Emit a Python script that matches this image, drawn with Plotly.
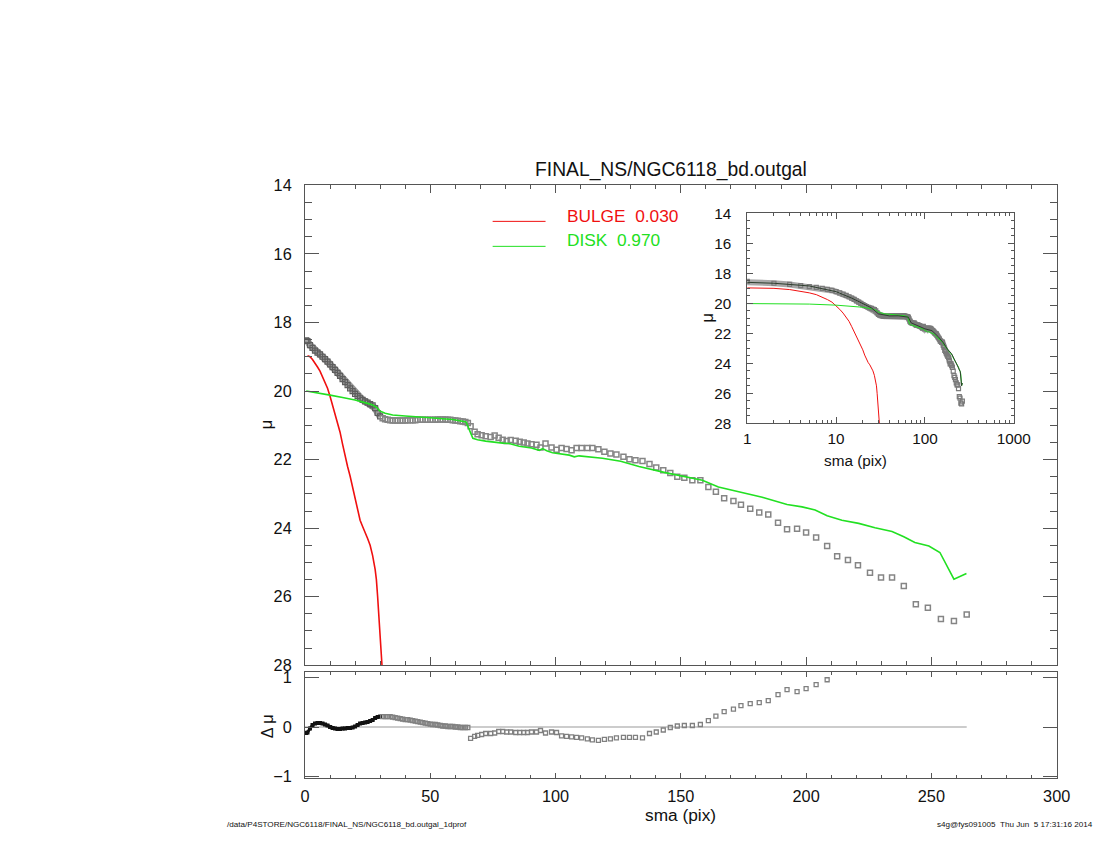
import plotly.graph_objects as go

# ---- profile data ----
data_sma = [0.5, 1, 2, 3, 4, 5, 6, 7, 8, 9, 10, 11, 12, 13, 14, 15, 16, 17, 18, 19, 20,
            21, 22, 23, 24, 25, 26, 27, 28, 29, 30, 31, 32, 33, 34, 35, 36, 37, 38, 39, 40,
            41, 42, 43, 44, 45, 46, 47, 48, 49, 50, 51, 52, 53, 54, 55, 56, 57, 58, 59, 60,
            61, 62, 63, 64, 65,
            66.1, 67.7, 68.9, 70.5, 72.1, 74.1, 75.7, 77.3, 78.9, 80.5, 82.1, 84.1, 85.7, 87.3,
            88.8, 90.4, 92.4, 94.0, 96.0, 98.4, 100.4, 102.4, 104.4, 106.4, 108.4, 110.4, 112.7,
            114.7, 117.1, 119.5, 121.9, 124.3, 127.1, 129.5, 131.9, 134.7, 137.5, 140.2, 143.0,
            145.8, 148.6, 151.4, 154.6, 157.8, 161.0, 164.0, 167.3, 171.0, 174.0, 177.7, 181.3,
            184.9, 188.8, 192.4, 196.4, 200.0, 204.0, 208.4, 212.4, 216.7, 220.7, 225.5, 229.9,
            234.3, 239.0, 243.8, 248.6, 253.8, 259.0, 264.1]
data_mu = [18.52, 18.54, 18.66, 18.74, 18.82, 18.88, 18.93, 19.00, 19.07, 19.14, 19.22, 19.30,
           19.38, 19.47, 19.56, 19.65, 19.74, 19.83, 19.92, 20.00, 20.08, 20.15, 20.21, 20.26,
           20.30, 20.34, 20.38, 20.42, 20.50, 20.64, 20.74, 20.79, 20.82, 20.84, 20.85, 20.86,
           20.86, 20.86, 20.86, 20.86, 20.86, 20.85, 20.85, 20.85, 20.85, 20.84, 20.84, 20.84,
           20.84, 20.84, 20.84, 20.84, 20.84, 20.83, 20.83, 20.83, 20.83, 20.84, 20.84, 20.85,
           20.86, 20.87, 20.88, 20.89, 20.90, 20.93,
           21.03, 21.19, 21.26, 21.29, 21.32, 21.34, 21.30, 21.36, 21.42, 21.46, 21.43, 21.45,
           21.48, 21.50, 21.53, 21.55, 21.57, 21.65, 21.53, 21.65, 21.71, 21.66, 21.69, 21.73,
           21.66, 21.66, 21.66, 21.66, 21.70, 21.77, 21.82, 21.85, 21.92, 21.99, 22.02, 22.04,
           22.13, 22.23, 22.31, 22.39, 22.50, 22.53, 22.60, 22.60, 22.80, 22.94, 23.13, 23.21,
           23.32, 23.43, 23.54, 23.60, 23.84, 24.03, 24.02, 24.13, 24.27, 24.52, 24.82, 24.93,
           25.08, 25.30, 25.44, 25.44, 25.69, 26.22, 26.32, 26.65, 26.71, 26.52]

# residuals (data - model), available out to sma ~208
resid_mu = [-0.12, -0.11, -0.03, 0.04, 0.07, 0.08, 0.08, 0.07, 0.05, 0.03, 0.00, -0.02, -0.03,
            -0.04, -0.04, -0.03, -0.03, -0.02, -0.02, -0.01, 0.01, 0.04, 0.07, 0.08, 0.09, 0.10,
            0.12, 0.14, 0.18, 0.20, 0.21, 0.21, 0.21, 0.21, 0.21, 0.20, 0.19, 0.18, 0.17, 0.16,
            0.15, 0.15, 0.14, 0.13, 0.12, 0.11, 0.10, 0.09, 0.08, 0.07, 0.06, 0.05, 0.05, 0.04,
            0.03, 0.02, 0.02, 0.01, 0.01, 0.01, 0.00, 0.00, -0.01, -0.01, -0.01, -0.01,
            -0.23, -0.19, -0.17, -0.15, -0.13, -0.13, -0.12, -0.09, -0.09, -0.10, -0.10, -0.11,
            -0.11, -0.11, -0.11, -0.10, -0.10, -0.07, -0.12, -0.10, -0.11, -0.18, -0.19, -0.20,
            -0.21, -0.22, -0.24, -0.26, -0.27, -0.25, -0.24, -0.22, -0.21, -0.21, -0.21, -0.22,
            -0.13, -0.10, -0.06, -0.01, 0.02, 0.03, 0.03, 0.05, 0.13, 0.22, 0.31, 0.36, 0.43,
            0.47, 0.49, 0.53, 0.65, 0.75, 0.71, 0.77, 0.85, 0.95]
resid_sma = data_sma[:len(resid_mu)]

bulge_sma = [1.0, 2.0, 3.0, 4.0, 5.0, 6.0, 7.0, 8.0, 9.0, 10.0, 11.0, 12.0, 13.0, 14.0, 15.0,
             16.0, 17.0, 18.0, 19.0, 20.0, 21.0, 22.0, 23.0, 24.0, 25.0, 26.0, 27.0, 28.0,
             28.5, 29.0, 29.5, 30.0, 30.5, 31.0]
bulge_mu = [18.97, 19.00, 19.08, 19.18, 19.30, 19.42, 19.58, 19.75, 19.92, 20.15, 20.40, 20.65,
            20.92, 21.20, 21.55, 21.90, 22.20, 22.48, 22.80, 23.10, 23.45, 23.77, 23.95, 24.10,
            24.30, 24.50, 24.80, 25.20, 25.50, 26.00, 26.50, 27.00, 27.60, 28.30]

disk_sma = [0.5, 5, 10, 15, 20, 25, 27, 28.7, 29.8, 32, 35, 40, 45.7, 50, 55, 59, 64.3, 65.6,
            67, 68.9, 72.1, 78.9, 81.5, 85.5, 90.4, 93.5, 94.8, 96.5, 98.8, 105.5, 107.5, 109.4,
            118.7, 126, 133.3, 143.8, 151.8, 158.6, 165, 171.7, 176.5, 182.5, 192.4, 198.4,
            203.6, 208.4, 214.3, 221, 227.5, 234.3, 239, 243.4, 249, 253.4, 259, 264]
disk_mu = [20.00, 20.05, 20.12, 20.19, 20.26, 20.36, 20.41, 20.48, 20.58, 20.65, 20.70, 20.73,
           20.75, 20.78, 20.81, 20.83, 20.90, 21.14, 21.38, 21.42, 21.46, 21.52, 21.53, 21.61,
           21.66, 21.73, 21.68, 21.74, 21.80, 21.87, 21.92, 21.89, 21.96, 22.05, 22.20, 22.38,
           22.50, 22.60, 22.80, 22.92, 23.00, 23.10, 23.31, 23.38, 23.47, 23.64, 23.77, 23.86,
           23.99, 24.10, 24.25, 24.42, 24.52, 24.71, 25.49, 25.32]

# total model as seen in the log inset
model_sma = [1, 2, 5, 10, 15, 20, 25, 30, 40, 50, 60, 65, 70, 80, 100, 120, 140, 160, 180,
             200, 220, 240, 250, 259, 264]
model_mu = [18.60, 18.66, 18.84, 19.22, 19.65, 20.02, 20.30, 20.70, 20.84, 20.83, 20.86, 20.92,
            21.30, 21.45, 21.70, 21.82, 22.20, 22.60, 23.06, 23.36, 23.86, 24.28, 24.55, 25.49,
            25.32]

bulge_frac = 0.030
disk_frac = 0.970
title = "FINAL_NS/NGC6118_bd.outgal"
path_text = "/data/P4STORE/NGC6118/FINAL_NS/NGC6118_bd.outgal_1dprof"
stamp_text = "s4g@fys091005  Thu Jun  5 17:31:16 2014"

W, H = 1116, 850
FONT = "Liberation Sans, Arial, sans-serif"
RED = "#f01010"
GREEN = "#22e022"
AX = "#555555"

# the photographed page comes out slightly shrunk and shifted down;
# positions below are given in reference-picture pixels and corrected here
SX, OX, SY, OY = 0.982, 1.5, 0.979, 8.6
K = 1 / 0.982  # size correction for fonts / tick lengths


def px(x):
    return min(((x - OX) / SX) / W, 1.0)


def py(y):
    return 1 - ((y - OY) / SY) / H


def fs(s):
    return round(s * K, 1)


n_in = 31   # inner dense points (sma <= 30) merge into a band
n_band = 123  # inset band up to sma ~190
fig = go.Figure()

# main panel
fig.add_trace(go.Scatter(x=data_sma[:n_in], y=data_mu[:n_in], mode="lines+markers",
                         line=dict(color="#999999", width=7),
                         marker=dict(symbol="square-open", size=5, color="#5e5e5e",
                                     line=dict(width=1.2)),
                         xaxis="x", yaxis="y", showlegend=False))
fig.add_trace(go.Scatter(x=data_sma[n_in:], y=data_mu[n_in:], mode="markers",
                         marker=dict(symbol="square-open", size=5, color="#858585",
                                     line=dict(width=1.5)),
                         xaxis="x", yaxis="y", showlegend=False))
fig.add_trace(go.Scatter(x=bulge_sma, y=bulge_mu, mode="lines", line=dict(color=RED, width=1.6),
                         xaxis="x", yaxis="y", showlegend=False))
fig.add_trace(go.Scatter(x=disk_sma, y=disk_mu, mode="lines", line=dict(color=GREEN, width=1.6),
                         xaxis="x", yaxis="y", showlegend=False))

# residual panel
fig.add_trace(go.Scatter(x=[0, data_sma[-1]], y=[0, 0], mode="lines",
                         line=dict(color="#9a9a9a", width=1.2),
                         xaxis="x2", yaxis="y2", showlegend=False))
fig.add_trace(go.Scatter(x=resid_sma[:n_in], y=resid_mu[:n_in], mode="lines+markers",
                         line=dict(color="#111111", width=3),
                         marker=dict(symbol="square", size=4, color="#111111"),
                         xaxis="x2", yaxis="y2", showlegend=False))
fig.add_trace(go.Scatter(x=resid_sma[n_in:], y=resid_mu[n_in:], mode="markers",
                         marker=dict(symbol="square-open", size=4, color="#808080",
                                     line=dict(width=1.3)),
                         xaxis="x2", yaxis="y2", showlegend=False))

# log inset
fig.add_trace(go.Scatter(x=data_sma[:n_band], y=data_mu[:n_band], mode="lines",
                         line=dict(color="#a8a8a8", width=6),
                         xaxis="x3", yaxis="y3", showlegend=False))
fig.add_trace(go.Scatter(x=data_sma, y=data_mu, mode="markers",
                         marker=dict(symbol="square-open", size=4, color="#7a7a7a",
                                     line=dict(width=1.2)),
                         xaxis="x3", yaxis="y3", showlegend=False))
fig.add_trace(go.Scatter(x=bulge_sma, y=bulge_mu, mode="lines", line=dict(color=RED, width=1),
                         xaxis="x3", yaxis="y3", showlegend=False))
fig.add_trace(go.Scatter(x=disk_sma, y=disk_mu, mode="lines", line=dict(color=GREEN, width=1),
                         xaxis="x3", yaxis="y3", showlegend=False))
fig.add_trace(go.Scatter(x=model_sma, y=model_mu, mode="lines",
                         line=dict(color="#2e3e2e", width=1),
                         xaxis="x3", yaxis="y3", showlegend=False))

main_x = [px(302), px(1055)]
tick_font = dict(family=FONT, size=fs(16), color="#111111")
small_font = dict(family=FONT, size=fs(15), color="#111111")
common = dict(showline=True, linecolor=AX, linewidth=1, mirror="ticks", ticks="inside",
              tickcolor=AX, showgrid=False, zeroline=False)

log_minor = [m * 10 ** d for d in range(3) for m in range(2, 10)]

fig.update_layout(
    width=W, height=H, margin=dict(l=0, r=0, t=0, b=0),
    paper_bgcolor="white", plot_bgcolor="white",
    font=dict(family=FONT),
    xaxis=dict(domain=main_x, range=[0, 300], anchor="y", dtick=50, ticklen=8,
               showticklabels=False, tickfont=tick_font,
               minor=dict(dtick=10, ticklen=4, ticks="inside", tickcolor=AX), **common),
    yaxis=dict(domain=[py(665), py(185)], range=[28, 14], anchor="x", tick0=14, dtick=2,
               ticklen=14, ticklabelstandoff=9, tickfont=tick_font,
               minor=dict(dtick=0.5, ticklen=7, ticks="inside", tickcolor=AX), **common),
    xaxis2=dict(domain=main_x, range=[0, 300], anchor="y2", dtick=50, ticklen=5,
                ticklabelstandoff=3, tickfont=tick_font,
                minor=dict(dtick=10, ticklen=3, ticks="inside", tickcolor=AX), **common),
    yaxis2=dict(domain=[py(778), py(672)], range=[-1.03, 1.1], anchor="x2",
                tickvals=[-1, 0, 1], ticklen=14, ticklabelstandoff=9, tickfont=tick_font,
                **common),
    xaxis3=dict(domain=[px(745), px(1012)], type="log", range=[0, 3], anchor="y3",
                tickvals=[1, 10, 100, 1000], ticktext=["1", "10", "100", "1000"],
                ticklen=6, ticklabelstandoff=1, tickfont=small_font,
                minor=dict(tickvals=log_minor, ticklen=3, ticks="inside", tickcolor=AX),
                **common),
    yaxis3=dict(domain=[py(423), py(213)], range=[28, 14], anchor="x3", tick0=14, dtick=2,
                ticklen=6, ticklabelstandoff=12, tickfont=small_font,
                minor=dict(dtick=0.5, ticklen=3, ticks="inside", tickcolor=AX), **common),
)

# legend samples
fig.add_shape(type="line", xref="paper", yref="paper", x0=px(490), x1=px(543),
              y0=py(221), y1=py(221), line=dict(color=RED, width=1))
fig.add_shape(type="line", xref="paper", yref="paper", x0=px(490), x1=px(543),
              y0=py(246), y1=py(246), line=dict(color=GREEN, width=1))


def note(text, x, y, size, color="#111111", xanchor="center", angle=0):
    fig.add_annotation(text=text, x=px(x), y=py(y), xref="paper", yref="paper",
                       showarrow=False, xanchor=xanchor, yanchor="middle", textangle=angle,
                       font=dict(family=FONT, size=fs(size), color=color))


note(title, 669, 170, 19)
note("BULGE  %.3f" % bulge_frac, 562, 216, 17, RED, "left")
note("DISK  %.3f" % disk_frac, 562, 240, 17, GREEN, "left")
note("μ", 263, 425, 16, angle=-90)
note("Δ μ", 264, 726, 16, angle=-90)
note("sma (pix)", 678, 815, 17)
note("μ", 705, 318, 16, angle=-90)
note("sma (pix)", 853, 460, 15)
note(path_text, 222, 824, 8, xanchor="left")
note(stamp_text, 1093, 824, 8, xanchor="right")

pin = ("var gd = document.getElementById('{plot_id}');"
       "gd.style.position='fixed'; gd.style.left='0px'; gd.style.top='0px';"
       "document.body.style.margin='0'; document.body.style.overflow='hidden';"
       "document.documentElement.style.overflow='hidden';")

fig.write_html("out.html", config={"displayModeBar": False}, post_script=pin)
